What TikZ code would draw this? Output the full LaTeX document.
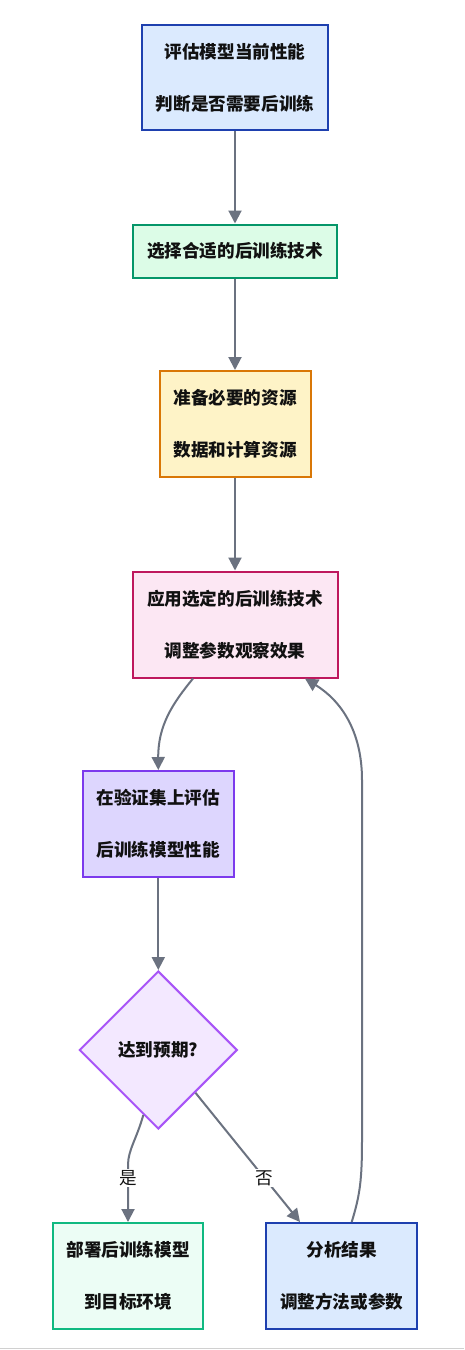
\documentclass[tikz,border=0pt]{standalone}
\usepackage{fontspec}
\newfontfamily\cjk{Noto Sans CJK SC}
\usetikzlibrary{shapes.geometric,arrows.meta}
\definecolor{edgec}{HTML}{6B7280}
\definecolor{f1}{HTML}{DBEAFE}\definecolor{d1}{HTML}{1E40AF}
\definecolor{f2}{HTML}{DCFCE7}\definecolor{d2}{HTML}{059669}
\definecolor{f3}{HTML}{FEF3C7}\definecolor{d3}{HTML}{D97706}
\definecolor{f4}{HTML}{FCE7F3}\definecolor{d4}{HTML}{BE185D}
\definecolor{f5}{HTML}{DDD6FE}\definecolor{d5}{HTML}{7C3AED}
\definecolor{f6}{HTML}{F3E8FF}\definecolor{d6}{HTML}{A855F7}
\definecolor{f7}{HTML}{ECFDF5}\definecolor{d7}{HTML}{10B981}
\definecolor{txt}{HTML}{111111}
\tikzset{
  box/.style={rectangle, line width=2pt, align=center, inner sep=0pt, text=txt,
    font=\cjk\bfseries\fontsize{17.6}{52}\selectfont},
  dia/.style={diamond, aspect=1, line width=2pt, align=center, inner sep=0pt, text=txt,
    minimum width=158pt, minimum height=158pt, font=\cjk\bfseries\fontsize{17.6}{52}\selectfont},
  conn/.style={draw=edgec, line width=2pt, -{Triangle[length=13pt,width=13pt]}},
  lab/.style={fill=white, inner sep=1.5pt, text=txt, font=\cjk\fontsize{17.6}{20}\selectfont}
}
\begin{document}
\begin{tikzpicture}[x=1pt,y=-1pt]
\useasboundingbox (0,0) rectangle (464,1350);
\fill[white] (0,0) rectangle (464,1350);
\draw[line width=1.5pt, draw={rgb,255:red,208;green,208;blue,208}] (0,1348.5) -- (464,1348.5);

\node[box, fill=f1, draw=d1, minimum width=186pt, minimum height=105pt] (b1) at (235,77.5) {评估模型当前性能\\判断是否需要后训练};
\node[box, fill=f2, draw=d2, minimum width=204pt, minimum height=53pt] (b2) at (235,251) {选择合适的后训练技术};
\node[box, fill=f3, draw=d3, minimum width=151pt, minimum height=106pt] (b3) at (235,424) {准备必要的资源\\数据和计算资源};
\node[box, fill=f4, draw=d4, minimum width=205pt, minimum height=106pt] (b4) at (235,624.5) {应用选定的后训练技术\\调整参数观察效果};
\node[box, fill=f5, draw=d5, minimum width=151pt, minimum height=106pt] (b5) at (158.3,824) {在验证集上评估\\后训练模型性能};
\node[dia, fill=f6, draw=d6] (d) at (158.3,1050) {达到预期?};
\node[box, fill=f7, draw=d7, minimum width=150pt, minimum height=106pt] (b7) at (128,1276) {部署后训练模型\\到目标环境};
\node[box, fill=f1, draw=d1, minimum width=151pt, minimum height=106pt] (b8) at (341.7,1276) {分析结果\\调整方法或参数};

\draw[conn] (b1) -- (b2);
\draw[conn] (b2) -- (b3);
\draw[conn] (b3) -- (b4);
\draw[conn] ([xshift=-42pt]b4.south) .. controls (173,703) and (158,725) .. (b5.north);
\draw[conn] (b5) -- (d);
\draw[conn] (d.257) .. controls (137,1138) and (128,1150) .. (128,1165) -- node[lab, pos=0.23] {是} (b7.north);
\draw[conn] (d.311) -- node[lab, pos=0.66] {否} ([xshift=-41.7pt]b8.north);
\draw[conn] ([xshift=10pt]b8.north) .. controls (360,1195) and (362,1180) .. (362,1140) -- (362,780) .. controls (362,730) and (340,700) .. ([xshift=70pt]b4.south);
\end{tikzpicture}
\end{document}
